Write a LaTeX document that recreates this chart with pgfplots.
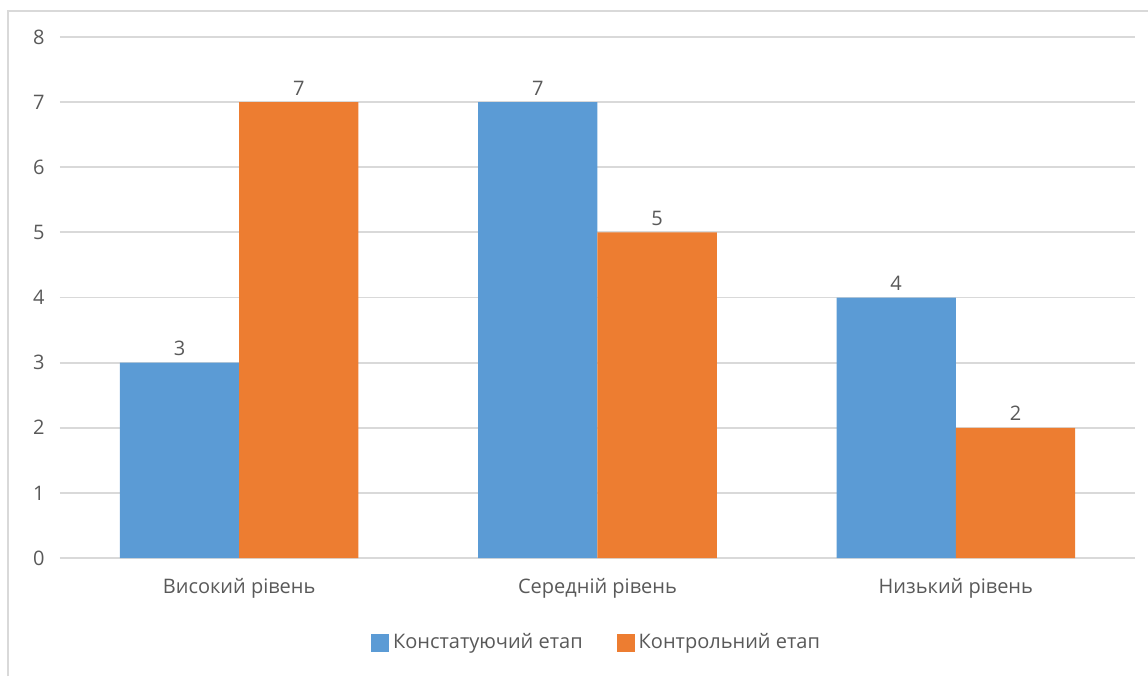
\documentclass[border=0pt]{standalone}
\usepackage{pgfplots}
\pgfplotsset{compat=1.18}
\usepackage{fontspec}
\setmainfont{Open Sans}
\definecolor{cblue}{HTML}{5B9BD5}
\definecolor{corange}{HTML}{ED7D31}
\definecolor{tgray}{HTML}{595959}
\definecolor{ggray}{HTML}{D9D9D9}
\begin{document}
\begin{tikzpicture}
\useasboundingbox (0,0) rectangle (574pt,338pt);
\draw[ggray, line width=0.6pt] (4pt,0) -- (4pt,332.5pt) -- (574pt,332.5pt);
\begin{axis}[
  at={(30pt,59pt)}, anchor=south west,
  scale only axis, width=537.5pt, height=260.5pt,
  xmin=-0.5, xmax=2.5, ymin=0, ymax=8,
  ybar=0pt, bar width=0.333,
  axis line style={draw=none},
  major tick length=0pt,
  ytick={0,1,...,8},
  xtick={0,1,2},
  xticklabels={Високий рівень, Середній рівень, Низький рівень},
  ymajorgrids, grid style={ggray, line width=0.9pt},
  font=\fontsize{10}{12}\selectfont,
  tick label style={text=tgray},
  /pgf/number format/assume math mode=true,
  yticklabel style={anchor=east, inner sep=0pt, xshift=-7.5pt},
  xticklabel style={anchor=north, inner sep=0pt, yshift=-10pt},
  nodes near coords,
  every node near coord/.append style={text=tgray, font=\fontsize{10}{12}\selectfont, /pgf/number format/assume math mode=true},
  legend style={draw=none, at={(0.5,-0.163)}, anchor=center, legend columns=2,
    font=\fontsize{10}{12}\selectfont, text=tgray,
    /tikz/every even column/.append style={column sep=15pt}},
  legend image code/.code={\fill[#1,draw=none] (0pt,-4.5pt) rectangle (9pt,4.5pt);},
]
\addplot[fill=cblue, draw=none] coordinates {(0,3) (1,7) (2,4)};
\addplot[fill=corange, draw=none] coordinates {(0,7) (1,5) (2,2)};
\legend{Констатуючий етап, Контрольний етап}
\end{axis}
\end{tikzpicture}
\end{document}
